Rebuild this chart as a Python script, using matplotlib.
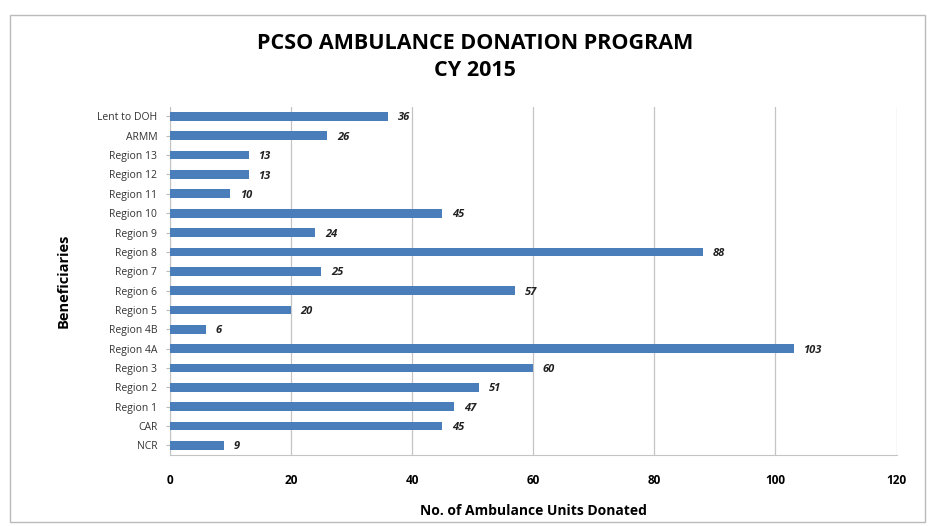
import matplotlib.pyplot as plt
from matplotlib.patches import Rectangle

categories = ["NCR", "CAR", "Region 1", "Region 2", "Region 3", "Region 4A", "Region 4B",
              "Region 5", "Region 6", "Region 7", "Region 8", "Region 9", "Region 10",
              "Region 11", "Region 12", "Region 13", "ARMM", "Lent to DOH"]
units = [9, 45, 47, 51, 60, 103, 6, 20, 57, 25, 88, 24, 45, 10, 13, 13, 26, 36]
xticks = [0, 20, 40, 60, 80, 100, 120]

plt.rcParams['font.family'] = ['Open Sans', 'DejaVu Sans']

fig = plt.figure(figsize=(9.33, 5.26), dpi=100)
ax = fig.add_axes([0.182, 0.135, 0.779, 0.662])

pos = range(len(categories))
ax.barh(pos, units, height=0.45, color='#4a7ebb', zorder=3)
for y, v in zip(pos, units):
    ax.text(v + 1.6, y - 0.08, str(v), va='center', ha='left', fontsize=8,
            fontweight='bold', fontstyle='italic', color='#222222')

ax.set_xlim(0, 120)
ax.set_ylim(-0.5, len(categories) - 0.5)
ax.set_xticks(xticks)
ax.set_yticks(list(pos))
ax.set_yticklabels(categories, fontsize=7.5, color='#333333')
ax.tick_params(axis='x', labelsize=8.5, length=0, pad=14)
ax.tick_params(axis='y', length=3, color='#bbbbbb', pad=6)
for lbl in ax.get_xticklabels():
    lbl.set_fontweight('bold')
ax.grid(axis='x', color='#c4c4c4', linewidth=0.9, zorder=0)
for side in ['top', 'right']:
    ax.spines[side].set_visible(False)
for side in ['left', 'bottom']:
    ax.spines[side].set_color('#c4c4c4')

ax.set_xlabel("No. of Ambulance Units Donated", fontsize=10, fontweight='bold', labelpad=12)
ax.set_ylabel("Beneficiaries", fontsize=10.5, fontweight='bold', labelpad=19)

fig.text(0.509, 0.917, "PCSO AMBULANCE DONATION PROGRAM", ha='center', va='center',
         fontsize=15.5, fontweight='bold')
fig.text(0.509, 0.866, "CY 2015", ha='center', va='center', fontsize=15.5, fontweight='bold')

fig.patches.append(Rectangle((0.011, 0.008), 0.98, 0.963, transform=fig.transFigure,
                             fill=False, edgecolor='#bbbbbb', linewidth=1.0))

fig.savefig("out.png", dpi=100)
